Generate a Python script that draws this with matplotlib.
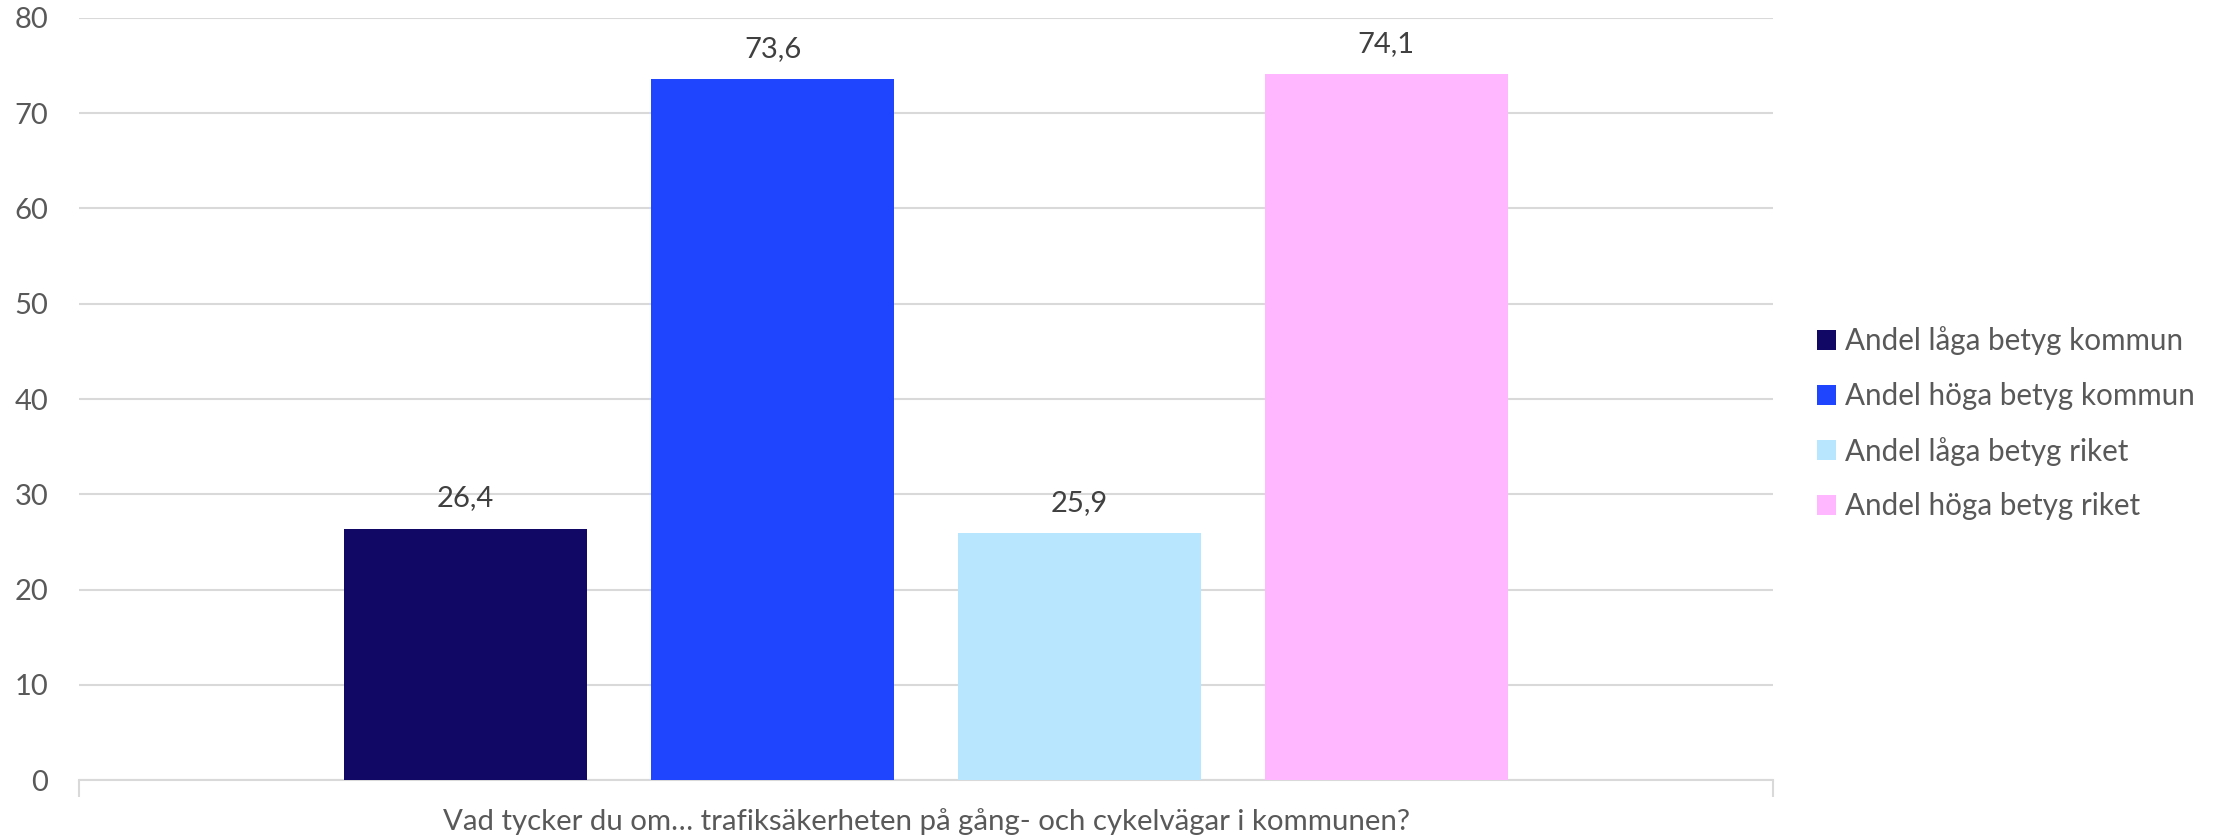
import numpy as np
import matplotlib.pyplot as plt

series = ["Andel låga betyg kommun", "Andel höga betyg kommun",
          "Andel låga betyg riket", "Andel höga betyg riket"]
values = [26.4, 73.6, 25.9, 74.1]
colors = ["#100864", "#1F45FF", "#B8E6FE", "#FFB8FF"]
category = "Vad tycker du om… trafiksäkerheten på gång- och cykelvägar i kommunen?"
yticks = [0, 10, 20, 30, 40, 50, 60, 70, 80]

plt.rcParams['font.family'] = ['Lato', 'DejaVu Sans']

fig = plt.figure(figsize=(22.19, 8.4), dpi=100)
ax = fig.add_axes([0.0356, 0.0714, 0.7634, 0.9072])

width = 0.1435
step = 0.1812
offsets = (np.arange(len(values)) - 1.5) * step
for off, v, c, name in zip(offsets, values, colors, series):
    ax.bar(off, v, width=width, color=c, label=name, zorder=3)
    ax.text(off, v + 1.8, f"{v:.1f}".replace(".", ","), ha="center", va="bottom",
            fontsize=21, color="#404040")

ax.set_xlim(-0.5, 0.5)
ax.set_ylim(0, 80)
ax.set_yticks(yticks)
ax.set_yticklabels([str(t) for t in yticks], fontsize=21, color="#595959")
ax.tick_params(axis="y", length=0, pad=22)
ax.set_xticks([-0.5, 0.5])
ax.set_xticklabels([])
ax.tick_params(axis="x", length=12, color="#d9d9d9", width=1.5)
ax.grid(axis="y", color="#d9d9d9", linewidth=1.5, zorder=0)
for s in ["top", "right", "left"]:
    ax.spines[s].set_visible(False)
ax.spines["bottom"].set_color("#d9d9d9")
ax.spines["bottom"].set_linewidth(1.5)

fig.text(0.4177, 0.022, category, ha="center", va="center", fontsize=21.2, color="#595959")

leg = ax.legend(loc="center left", bbox_to_anchor=(1.01, 0.468), frameon=False,
                fontsize=21.3, handlelength=0.65, handleheight=0.65, handletextpad=0.3,
                labelspacing=0.9, labelcolor="#595959")

fig.savefig("out.png", dpi=100)
